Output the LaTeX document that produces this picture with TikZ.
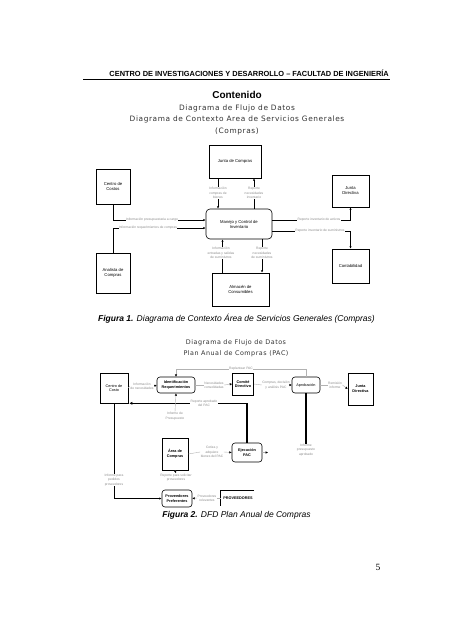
\documentclass[tikz,border=0pt]{standalone}
\usepackage{fontspec}
\setmainfont{Liberation Sans}
\newfontfamily\tfont[LetterSpace=8]{DejaVu Sans}
\newfontfamily\pnfont{Liberation Serif}
\usetikzlibrary{arrows.meta,shadows}
\begin{document}
\begin{tikzpicture}[x=1pt,y=-1pt,
  box/.style={draw, line width=0.6pt, fill=white, align=center, inner sep=0pt,
    font=\fontsize{4.2}{5}\selectfont},
  sbox/.style={box, drop shadow={fill=black, opacity=1, shadow xshift=1pt, shadow yshift=-1pt}},
  rbox/.style={box, rounded corners=4pt},
  bbox/.style={box, font=\bfseries\fontsize{3.8}{4.6}\selectfont},
  rbbox/.style={bbox, rounded corners=3pt},
  lbl/.style={font=\fontsize{3.3}{4.3}\selectfont, text=black!45, fill=white, align=center, inner sep=0.4pt},
  arr/.style={line width=0.5pt, -{Latex[length=2.4pt,width=2.4pt]}},
  tarr/.style={line width=1.1pt, -{Latex[length=3pt,width=3pt]}},
  garr/.style={draw=black!30, line width=0.4pt, -{Latex[length=2.4pt,width=2.4pt,color=black]}},
  gline/.style={draw=black!30, line width=0.4pt},
  ttl/.style={font=\tfont\fontsize{7.4}{8.4}\selectfont, text=black!80},
  ttlb/.style={font=\tfont\fontsize{6.4}{7.2}\selectfont, text=black!80},
  figcap/.style={font=\itshape\fontsize{8.5}{10}\selectfont}
]
\useasboundingbox[fill=white] (0,0) rectangle (452,640);

% header
\node[anchor=base east, inner sep=0pt, font=\bfseries\fontsize{7.4}{8}\selectfont] (hdr) at (389,76.5)
  {CENTRO DE INVESTIGACIONES Y DESARROLLO – FACULTAD DE INGENIERÍA};
\coordinate (rl) at (83,79.5);
\coordinate (rr) at (390,79.5);
\draw[line width=0.8pt] (rl) -- (rr);

\node[font=\bfseries\fontsize{10}{12}\selectfont] (cont) at (237,95) {Contenido};
\node[ttl] (t1) at (237,108) {Diagrama de Flujo de Datos};
\node[ttl] (t2) at (237,119.5) {Diagrama de Contexto Area de Servicios Generales};
\node[ttl] (t3) at (237,131) {(Compras)};

% ---------------- diagram 1
\node[sbox, minimum width=52pt, minimum height=33pt] (jc) at (235,161.5) {Junta de Compras};
\node[box, minimum width=34pt, minimum height=35pt] (cc) at (113,186.5) {Centro de\\Costos};
\node[sbox, minimum width=34pt, minimum height=40pt] (an) at (113,273) {Analista de\\Compras};
\node[rbox, minimum width=66pt, minimum height=30pt] (mc) at (239,224) {Manejo y Control de\\Inventario};
\node[sbox, minimum width=57pt, minimum height=33pt] (al) at (240.5,289.5) {Almacén de\\Consumibles};
\node[sbox, minimum width=37pt, minimum height=32pt] (jd) at (350.5,191) {Junta\\Directiva};
\node[box, minimum width=37pt, minimum height=34pt] (co) at (350.5,266) {Contabilidad};

\draw[arr] (cc.south) |- ([yshift=4pt]mc.west);
\draw[arr] (an.north) |- ([yshift=-4pt]mc.west);
\draw[arr] ([xshift=-17pt]jc.south) -- ([xshift=-17pt]jc.south |- mc.north);
\draw[arr] ([xshift=15pt]mc.north) -- ([xshift=15pt]mc.north |- jc.south);
\draw[arr] ([xshift=-18pt]al.north) -- ([xshift=-18pt]al.north |- mc.south);
\draw[arr] ([xshift=23pt]mc.south) -- ([xshift=23pt]mc.south |- al.north);
\draw[arr] ([yshift=4pt]mc.east) -| (jd.south);
\draw[arr] ([yshift=-7pt]mc.east) -| (co.north);

\node[lbl] (l1) at (152,220) {Información presupuestaria a cargo};
\node[lbl] (l2) at (148,228) {Información requerimientos de compras};
\node[lbl] (l3) at (218,193) {Información\\compras de\\bienes};
\node[lbl] (l4) at (254,193) {Reporte\\necesidades\\inventario};
\node[lbl] (l5) at (221,253) {Información\\entradas y salidas\\de suministros};
\node[lbl] (l6) at (262,253) {Reporte\\necesidades\\de suministros};
\node[lbl] (l7) at (319,220) {Reporte inventario de activos};
\node[lbl] (l8) at (320,231) {Reporte inventario de suministros};

\node[figcap] (cap1) at (236.5,319) {\textbf{Figura 1.} Diagrama de Contexto Área de Servicios Generales (Compras)};

% ---------------- diagram 2
\node[ttlb] (t4) at (236,343) {Diagrama de Flujo de Datos};
\node[ttlb] (t5) at (236,353.5) {Plan Anual de Compras (PAC)};

\node[bbox, font=\fontsize{3.8}{4.6}\selectfont, minimum width=28pt, minimum height=30pt] (cd) at (114,388) {Centro de\\Costo};
\node[rbbox, minimum width=38pt, minimum height=16pt] (ir) at (176,385) {Identificación\\Requerimientos};
\node[bbox, minimum width=21pt, minimum height=22pt] (cm) at (243,384) {Comité\\Directivo};
\node[rbbox, font=\fontsize{3.8}{4.6}\selectfont, minimum width=28pt, minimum height=16pt] (ap) at (306,385) {Aprobación};
\node[bbox, minimum width=25pt, minimum height=32pt] (jd2) at (360.5,389) {Junta\\Directiva};
\node[bbox, drop shadow={fill=black, opacity=1, shadow xshift=1pt, shadow yshift=-1pt}, minimum width=26pt, minimum height=32pt] (ac) at (175,454) {Área de\\Compras};
\node[rbbox, minimum width=30pt, minimum height=19pt] (ej) at (247,452.5) {Ejecución\\PAC};
\node[rbbox, minimum width=30pt, minimum height=17pt] (pp) at (177,498.5) {Proveedores\\Preferentes};
\node[font=\bfseries\fontsize{3.8}{4.6}\selectfont, inner sep=0pt] (st) at (238,498) {PROVEEDORES};
\coordinate (sta) at (220.5,490);
\coordinate (stb) at (254,490);
\coordinate (stc) at (220.5,506);
\draw[line width=0.6pt] (stb) -- (sta) -- (stc);

% labels
\node[lbl] (m1) at (142,386) {Información\\de necesidades};
\node[lbl] (m2) at (214,385) {Necesidades\\consolidadas};
\node[lbl] (m3) at (276,385) {Compras, decisión\\y análisis PAC};
\node[lbl] (m4) at (335,385) {Remisión\\informe};
\node[lbl] (m7) at (175,416) {Informe de\\Presupuesto};
\node[lbl] (m8) at (212,452) {Cotiza y\\adquiere\\bienes del PAC};
\node[lbl] (m9) at (306,450) {Informe\\presupuesto\\aprobado};
\node[lbl] (m10) at (176,477.5) {Reporte para solicitar\\proveedores};
\node[lbl] (m12) at (207,498) {Proveedores\\relevantes};
\coordinate (ejo) at (268,452.5);

% connectors
\draw[gline] (cd.east) -- (m1.west);
\draw[garr] (m1.east) -- (ir.west);
\draw[gline] (ir.east) -- (m2.west);
\draw[garr] (m2.east) -- (cm.west);
\draw[gline] (cm.east) -- (m3.west);
\draw[garr] (m3.east) -- (ap.west);
\draw[gline] (ap.east) -- (m4.west);
\draw[garr] (m4.east) -- (jd2.west);
\draw[garr] (ap.north) -- ++(0,-8) -| (ir.north) node[lbl, pos=0.25] (m5) {Replantear PAC};
\draw[tarr] (ej.north) |- ([xshift=1pt]cd.south east);
\draw[line width=1.1pt] (ap.south) -- (m9.north);
\draw[garr] (m7.north) -- (ir.south);
\draw[gline] (ac.east) -- (m8.west);
\draw[garr] (m8.east) -- (ej.west);
\draw[garr] (ej.east) -- (ejo);
\draw[garr] (ac.south) -- (m10.north);
\draw[line width=0.6pt, -{Latex[length=2.4pt,width=2.4pt]}] (cd.south) |- (pp.west);
\node[lbl] (m11) at (114,480) {Informe para\\pedidos\\proveedores};
\draw[gline] (stc |- m12.east) -- (m12.east);
\draw[garr] (m12.west) -- (pp.east);
\node[lbl, fill=white] (m6) at (204,403) {Reporte aprobado\\del PAC};

\node[figcap] (cap2) at (236.5,515) {\textbf{Figura 2.} DFD Plan Anual de Compras};
\node[font=\pnfont\fontsize{9.5}{11}\selectfont] (pn) at (378,567) {5};
\end{tikzpicture}
\end{document}
